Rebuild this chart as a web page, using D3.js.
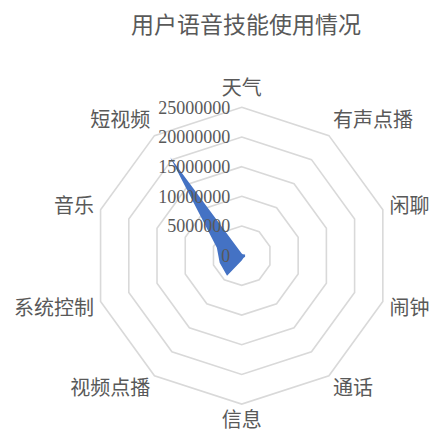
<!DOCTYPE html>
<html>
<head>
<meta charset="utf-8">
<script src="https://cdn.jsdelivr.net/npm/d3@7"></script>
<style>
  html, body { margin: 0; padding: 0; background: #fff; }
  svg { display: block; }
</style>
</head>
<body>
<svg id="chart" width="431" height="433"></svg>
<script>
const title = "用户语音技能使用情况";
const categories = ["天气", "有声点播", "闲聊", "闹钟", "通话", "信息", "视频点播", "系统控制", "音乐", "短视频"];
const values = [350000, 300000, 600000, 600000, 500000, 800000, 4200000, 3900000, 4400000, 20500000];
const tickValues = [0, 5000000, 10000000, 15000000, 20000000, 25000000];
const tickLabels = ["0", "5000000", "10000000", "15000000", "20000000", "25000000"];

const W = 431, H = 433;
const cx = 241.7, cy = 255.7, R = 148.4;
const svg = d3.select("#chart");
const textColor = "#595959";
const cjk = "'Noto Sans CJK SC', 'Noto Sans', sans-serif";

const r = d3.scaleLinear().domain([0, 25000000]).range([0, R]);
const n = categories.length;
const ang = d3.scaleLinear().domain([0, n]).range([0, 2 * Math.PI]);

const g = svg.append("g").attr("transform", `translate(${cx},${cy})`);

// grid rings
const ring = d3.lineRadial()
  .angle((d, i) => ang(i))
  .radius(d => r(d))
  .curve(d3.curveLinearClosed);

tickValues.filter(v => v > 0).forEach(v => {
  g.append("path")
    .attr("d", ring(categories.map(() => v)))
    .attr("fill", "none")
    .attr("stroke", "#d9d9d9")
    .attr("stroke-width", 1.6);
});

// data area
g.append("path")
  .attr("d", ring(values))
  .attr("fill", "#4472C4")
  .attr("stroke", "none");

// tick labels
g.selectAll("text.tick")
  .data(tickValues)
  .enter().append("text")
  .attr("class", "tick")
  .attr("x", -11.5)
  .attr("y", d => -r(d))
  .attr("dy", "0.35em")
  .attr("text-anchor", "end")
  .attr("font-family", "'Liberation Serif', 'DejaVu Serif', serif")
  .attr("font-size", 18)
  .attr("fill", textColor)
  .text((d, i) => tickLabels[i]);

// category labels
categories.forEach((c, i) => {
  const a = ang(i);
  const s = Math.sin(a), co = Math.cos(a);
  const rr = R + 7;
  const x = rr * s, y = -rr * co;
  const anchor = s > 0.1 ? "start" : (s < -0.1 ? "end" : "middle");
  const off = co > 0 ? 12 : 8.5;
  g.append("text")
    .attr("x", x)
    .attr("y", y - co * off + (Math.abs(co) < 0.5 ? 2 : 0))
    .attr("dy", "0.35em")
    .attr("text-anchor", anchor)
    .attr("font-family", cjk)
    .attr("font-size", 20)
    .attr("fill", textColor)
    .text(c);
});

// title
svg.append("text")
  .attr("x", 246)
  .attr("y", 25)
  .attr("dy", "0.35em")
  .attr("text-anchor", "middle")
  .attr("font-family", cjk)
  .attr("font-size", 23)
  .attr("fill", textColor)
  .text(title);
</script>
</body>
</html>
